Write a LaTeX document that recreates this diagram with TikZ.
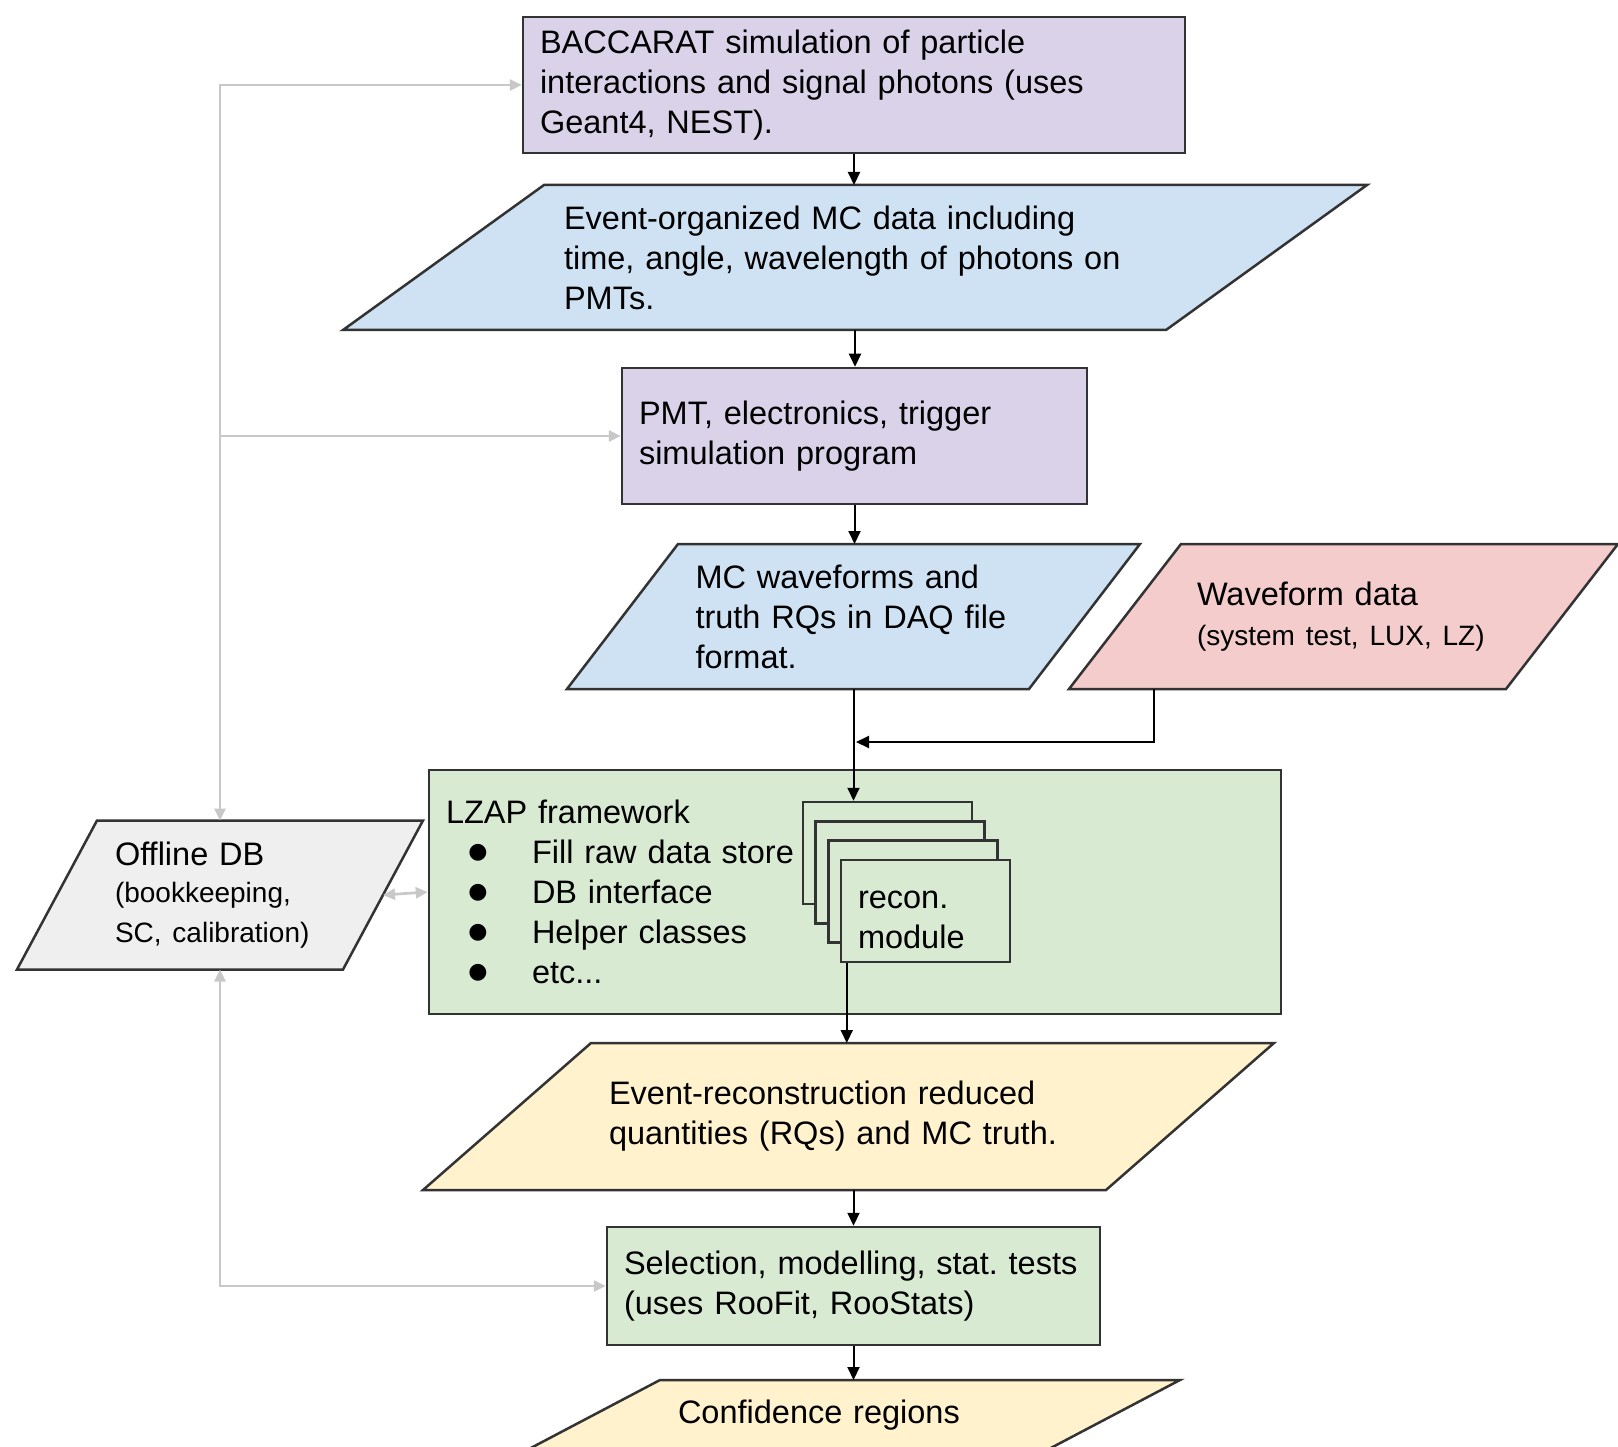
\documentclass[tikz,border=0pt]{standalone}
\usepackage{fontspec}
\setmainfont{Liberation Sans}
\newfontfamily\symfont{DejaVu Sans}
\frenchspacing
\usetikzlibrary{positioning}
\usetikzlibrary{shapes,arrows.meta,backgrounds,calc}

\definecolor{purp}{HTML}{D9D2E9}
\definecolor{lblue}{HTML}{CFE2F3}
\definecolor{lpink}{HTML}{F4CCCC}
\definecolor{lgreen}{HTML}{D9EAD3}
\definecolor{lyellow}{HTML}{FFF2CC}
\definecolor{lgray}{HTML}{EFEFEF}
\definecolor{dbline}{HTML}{C8C8C8}

\newcommand{\txtmain}{\fontsize{32.5}{40}\selectfont}
\newcommand{\txtsmall}{\fontsize{28}{37}\selectfont}
\newcommand{\itm}{\hspace*{17pt}\makebox[30pt][c]{\raisebox{5pt}{\symfont\fontsize{22}{40}\selectfont ●}}\hspace{39pt}}

\tikzset{
  box/.style={rectangle,draw=black!80,line width=2.5pt,inner xsep=17pt,align=left,font=\txtmain},
  slant/.style={rectangle,inner sep=0pt,outer sep=0pt,align=left,font=\txtmain},
  modbox/.style={box,fill=lgreen,minimum width=169pt,minimum height=102pt,text width=135pt},
  link/.style={line width=2pt,-{Triangle[length=13pt,width=12pt]}},
  glink/.style={draw=dbline,line width=2.7pt,-{Triangle[length=12pt,width=11pt]}},
  dblink/.style={draw=dbline,line width=2.7pt,{Triangle[length=12pt,width=11pt]}-{Triangle[length=12pt,width=11pt]}}
}

\begin{document}
\begin{tikzpicture}[x=1pt,y=-1pt]
    \useasboundingbox (0,0) rectangle (1618,1447);
    \clip (0,0) rectangle (1618,1447);
    % simulation chain
    \node[box,fill=purp,text width=628pt,minimum height=136pt] (baccarat) at (854,85) {BACCARAT simulation of particle\\interactions and signal photons (uses\\Geant4, NEST).};
    \node[slant,minimum width=1024pt,minimum height=145pt,text width=582pt] (mcdata) at (855,257.5) {Event-organized MC data including\\time, angle, wavelength of photons on\\PMTs.};
    \node[box,fill=purp,text width=431pt,minimum height=136pt] (pmtsim) at (854.5,436) {PMT, electronics, trigger\\simulation program};
    \node[slant,minimum width=573pt,minimum height=145pt,text width=316pt] (mcwave) at (853.5,616.5) {MC waveforms and\\truth RQs in DAQ file\\format.};
    \node[slant,minimum width=549pt,minimum height=145pt,text width=293pt] (wfdata) at (1343.5,616.5) {Waveform data\\{\txtsmall(system test, LUX, LZ)}};
    \node[slant,minimum width=406pt,minimum height=149pt,text width=210pt] (offdb) at (220,895) {Offline DB\\{\txtsmall(bookkeeping,\\SC, calibration)}};
    % framework
    \node[box,fill=lgreen,text width=818pt,minimum height=244pt] (lzap) at (855,892) {LZAP framework\\
        \itm Fill raw data store\\
        \itm DB interface\\
        \itm Helper classes\\
        \itm etc...};
    \foreach \i in {0,1,2} {
        \node[modbox] (mod\i) at (887.5+12.7*\i,853+19.3*\i) {};
    }
    \node[modbox,text depth=22pt] (module) at (925.5,911) {recon.\\module};
    % analysis
    \node[slant,minimum width=851pt,minimum height=147pt,text width=479pt] (evrec) at (848.5,1116.5) {Event-reconstruction reduced\\quantities (RQs) and MC truth.};
    \node[box,fill=lgreen,text width=459pt,minimum height=118pt] (select) at (853.5,1286) {Selection, modelling, stat. tests\\(uses RooFit, RooStats)};
    \node[slant,minimum width=653pt,minimum height=70pt,text width=351pt] (conf) at (853.5,1415) {Confidence regions};
    \begin{scope}[on background layer]
        %Parallelograms behind the data nodes
        \foreach \n/\o/\c in {mcdata/201/lblue,mcwave/111/lblue,wfdata/112/lpink,offdb/80/lgray,evrec/168/lyellow,conf/133/lyellow} {
            \draw[draw=black!80,line width=2.5pt,fill=\c] ($(\n.north west)+(\o,0)$) -- (\n.north east) -- ($(\n.south east)-(\o,0)$) -- (\n.south west) -- cycle;
        }
    \end{scope}
    \coordinate (join) at (856,742);
    \coordinate (drop) at ([xshift=85pt]wfdata.south west);
    \coordinate (out) at ([xshift=7pt]module.south west);
    \draw[link] (baccarat.south) -- (baccarat.south |- mcdata.north);
    \draw[link] (mcdata.south) -- (mcdata.south |- pmtsim.north);
    \draw[link] (pmtsim.south) -- (pmtsim.south |- mcwave.north);
    \draw[link] (mcwave.south) -- (mcwave.south |- mod0.north);
    \draw[link] (drop) |- (join);
    \draw[link] (out) -- (out |- evrec.north);
    \draw[link] (select.north |- evrec.south) -- (select.north);
    \draw[link] (select.south) -- (select.south |- conf.north);
    %Offline DB links
    \draw[dblink] (baccarat.west) -| (offdb.north);
    \draw[glink] (pmtsim.west -| offdb.north) -- (pmtsim.west);
    \draw[dblink] (offdb.south) |- (select.west);
    \draw[dblink] ([xshift=-40pt]offdb.east) -- (lzap.west);
\end{tikzpicture}
\end{document}
